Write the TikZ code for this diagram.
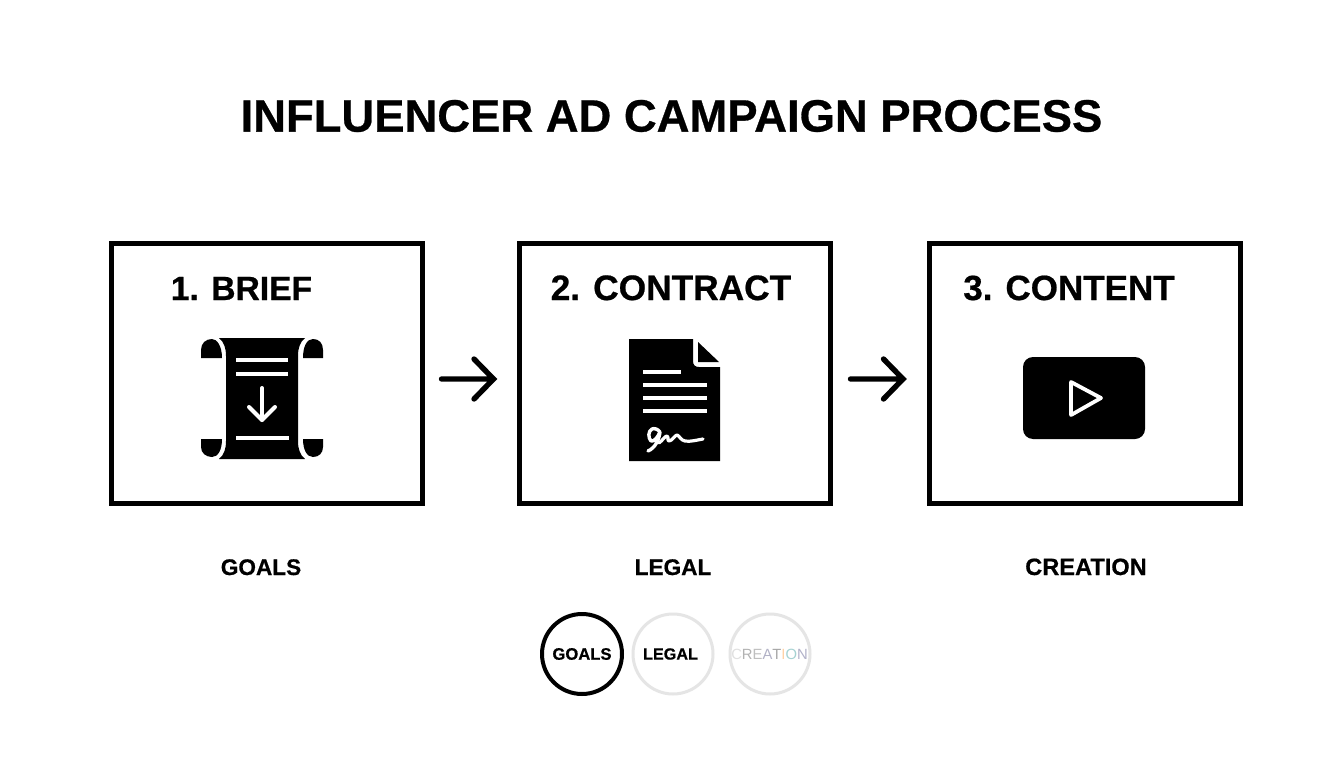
\documentclass[tikz,border=0pt]{standalone}
\usepackage{fontspec}
\setmainfont[BoldFeatures={FakeBold=0.6}]{Liberation Sans}
\usetikzlibrary{arrows.meta}
\newcommand{\fs}[1]{\fontsize{#1}{#1}\selectfont}
\tikzset{
  x=1pt,y=-1pt,
  title/.style={font=\fs{45.4}\bfseries,inner sep=0pt},
  stagebox/.style={draw=black,fill=white,line width=5pt,minimum width=311pt,minimum height=260pt,inner sep=0pt,outer sep=0pt,line join=miter},
  stagehead/.style={font=\fs{35}\bfseries,inner sep=0pt,anchor=base},
  sublabel/.style={font=\fs{22.6}\bfseries,inner sep=0pt,anchor=base},
  flowarrow/.style={line width=5.4pt,line cap=round,line join=miter},
  dotnode/.style={circle,minimum size=80pt,inner sep=0pt,outer sep=0pt,fill=white},
  dotactive/.style={dotnode,draw=black,line width=4pt,font=\fs{16.6}\bfseries},
  dotmuted/.style={dotnode,draw=black!10,line width=3pt,font=\fs{16.2}\bfseries},
  icon/.style={fill=black,draw=none},
  iconline/.style={draw=white,line width=4pt},
}
\begin{document}
\begin{tikzpicture}
\useasboundingbox (0,0) rectangle (1344,768);
\fill[white] (0,0) rectangle (1344,768);

\node[title] (ttl) at (671.5,116) {INFLUENCER AD CAMPAIGN PROCESS};

\node[stagebox] (box1) at (267,373.5) {};
\node[stagebox] (box2) at (675,373.5) {};
\node[stagebox] (box3) at (1084.5,373.5) {};

\node[stagehead,font=\fs{33.6}\bfseries] (h1) at (241.5,300) {1. BRIEF};
\node[stagehead,font=\fs{35.3}\bfseries] (h2) at (671,300) {2. CONTRACT};
\node[stagehead] (h3) at (1069,300) {3. CONTENT};

\coordinate (a1s) at ([shift={(19,5.5)}]box1.east);
\coordinate (a1e) at ([shift={(-26,5.5)}]box2.west);
\coordinate (a2s) at ([shift={(20,5.5)}]box2.east);
\coordinate (a2e) at ([shift={(-26,5.5)}]box3.west);
\draw[flowarrow] (a1s) -- (a1e) ++(-19.5,-20) -- (a1e) -- ++(-19.5,20);
\draw[flowarrow] (a2s) -- (a2e) ++(-19.5,-20) -- (a2e) -- ++(-19.5,20);

% scroll icon
\path[icon] (219,338) -- (305,338) .. controls (300,342) and (298,348) .. (298,356)
  -- (298,441) .. controls (298,449) and (300,455) .. (305,459)
  -- (219,459) .. controls (224,455) and (226,449) .. (226,441)
  -- (226,356) .. controls (226,348) and (224,342) .. (219,338) -- cycle;
\path[icon] (201,358) -- (201,350) .. controls (201,343) and (206,339) .. (212,339)
  .. controls (217,339) and (222,346) .. (222,358) -- cycle;
\path[icon] (303,358) .. controls (303,346) and (307,339) .. (313,339)
  .. controls (319,339) and (323,343) .. (323,350) -- (323,358) -- cycle;
\path[icon] (201,439) -- (222,439) .. controls (222,450) and (218,457) .. (212,457)
  .. controls (206,457) and (201,453) .. (201,447) -- cycle;
\path[icon] (303,439) -- (323,439) -- (323,447) .. controls (323,453) and (319,457) .. (313,457)
  .. controls (307,457) and (303,450) .. (303,439) -- cycle;
\draw[iconline] (236,360) -- (288,360);
\draw[iconline] (236,374) -- (288,374);
\draw[iconline] (236,438) -- (289,438);
\draw[iconline,line cap=round,line join=round] (262,388) -- (262,420);
\draw[iconline,line cap=round,line join=round] (249,407) -- (262,420) -- (275,407);

% contract icon
\path[icon] (629,339) -- (693,339) -- (693,361) .. controls (693,365) and (695,367) .. (699,367)
  -- (720,367) -- (720,461) -- (629,461) -- cycle;
\path[icon] (698,342) -- (719,362) -- (698,362) -- cycle;
\draw[iconline,line width=3.5pt] (643,372) -- (681,372);
\draw[iconline,line width=3.5pt] (643,385) -- (707,385);
\draw[iconline,line width=3.5pt] (643,398) -- (707,398);
\draw[iconline,line width=3.5pt] (643,411) -- (707,411);
\draw[draw=white,line width=3.4pt,line cap=round,line join=round]
  (660,432) .. controls (658,429) and (654,428) .. (652,429)
  .. controls (648,431) and (648,438) .. (651,441)
  .. controls (654,442) and (658,437) .. (660,432)
  .. controls (659,440) and (655,448) .. (648,451);
\draw[draw=white,line width=3.2pt,line cap=round,line join=round]
  (659,443) .. controls (662,441) and (665,436) .. (667,436)
  .. controls (669,437) and (667,441) .. (669,441)
  .. controls (672,441) and (675,435) .. (677,435)
  .. controls (680,436) and (680,440) .. (685,441)
  .. controls (690,442) and (697,440) .. (703,439);

% play icon
\path[icon,rounded corners=10pt] (1023,357) rectangle (1145,439);
\draw[draw=white,line width=3.8pt,line join=round] (1071,382) -- (1071,415) -- (1101,398) -- cycle;

\node[sublabel] (s1) at (261,575) {GOALS};
\node[sublabel] (s2) at (673,575) {LEGAL};
\node[sublabel,font=\fs{23.6}\bfseries] (s3) at (1086,575) {CREATION};

\node[dotactive] (d1) at (582,654) {GOALS};
\node[dotmuted] (d2) at (673,654) {\hspace*{-5pt}LEGAL};
\node[dotmuted,font=\fs{14.8}] (d3) at (770,654) {\hspace*{-1pt}\textcolor{black!12}{C}\textcolor{black!30}{R}\textcolor{black!25}{E}\textcolor{blue!25!black!30}{A}\textcolor{black!35}{T}\textcolor{orange!35}{I}\textcolor{teal!35}{O}\textcolor{blue!30!black!30}{N}};
\end{tikzpicture}
\end{document}
